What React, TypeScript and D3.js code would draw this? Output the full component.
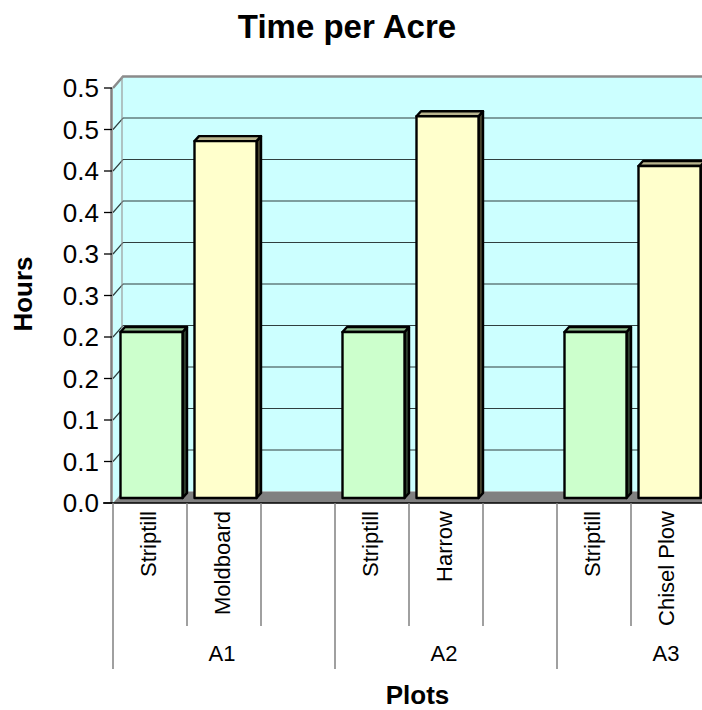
import React from "react";
import * as d3 from "d3";

const groups = ["A1", "A2", "A3"];
const treatments = [
  ["Striptill", "Moldboard", ""],
  ["Striptill", "Harrow", ""],
  ["Striptill", "Chisel Plow", ""],
];
const striptillHours = [0.2, 0.2, 0.2];
const tillageHours = [0.43, 0.46, 0.4];
const yTickValues = [0, 0.05, 0.1, 0.15, 0.2, 0.25, 0.3, 0.35, 0.4, 0.45, 0.5];
const yTickLabels = ["0.0", "0.1", "0.1", "0.2", "0.2", "0.3", "0.3", "0.4", "0.4", "0.5", "0.5"];

const W = 702;
const H = 710;
const FONT = "'Liberation Sans', Arial, sans-serif";

const left = 113;
const right = 779;
const y0 = 503;
const yTop = 88;
const wall = { dx: 10, dy: -11.5 };
const barOff = { dx: 4, dy: -5 };
const barDepth = { dx: 4.5, dy: -5 };

const GREEN = { front: "#CCFFCC", top: "#8FBF8F", side: "#2E402E" };
const YELLOW = { front: "#FFFFCC", top: "#B8B48E", side: "#46442E" };

export default function App() {
  const y = d3.scaleLinear().domain([0, 0.5]).range([y0, yTop]);
  const slotKeys = groups.flatMap((g, gi) => treatments[gi].map((_, ti) => `${g}|${ti}`));
  const xSlot = d3.scaleBand<string>().domain(slotKeys).range([left, right]).padding(0);
  const xGroup = d3.scaleBand<string>().domain(groups).range([left, right]).padding(0);
  const bw = xSlot.bandwidth() * 0.838;

  const bars: { key: string; v: number; c: typeof GREEN }[] = [];
  groups.forEach((g, gi) => {
    bars.push({ key: `${g}|0`, v: striptillHours[gi], c: GREEN });
    bars.push({ key: `${g}|1`, v: tillageHours[gi], c: YELLOW });
  });

  const backLeft = left + wall.dx;
  const backBottom = y0 + wall.dy;
  const backTop = yTop + wall.dy;

  return (
    <svg
      width={W}
      height={H}
      style={{ position: "absolute", left: 0, top: 0, background: "#fff" }}
      fontFamily={FONT}
    >
      {/* back wall */}
      <rect x={backLeft} y={backTop} width={right + wall.dx - backLeft} height={backBottom - backTop} fill="#CCFFFF" />
      {/* left wall */}
      <polygon
        points={`${left},${y0} ${left},${yTop} ${backLeft},${backTop} ${backLeft},${backBottom}`}
        fill="#CCFFFF"
      />
      {/* gridlines */}
      {yTickValues.slice(1, -1).map((v, i) => (
        <polyline
          key={i}
          points={`${left},${y(v)} ${backLeft},${y(v) + wall.dy} ${right + wall.dx},${y(v) + wall.dy}`}
          fill="none"
          stroke="#2f3f3f"
          strokeWidth={1.2}
        />
      ))}
      {/* wall borders */}
      <polyline
        points={`${left},${yTop} ${backLeft},${backTop} ${right + wall.dx},${backTop}`}
        fill="none"
        stroke="#8a8a8a"
        strokeWidth={2.5}
      />
      <line x1={backLeft - 1} x2={backLeft - 1} y1={backTop} y2={backBottom} stroke="#9a9a9a" strokeWidth={1.2} />
      {/* floor */}
      <polygon
        points={`${left},${y0} ${right},${y0} ${right + wall.dx},${backBottom} ${backLeft},${backBottom}`}
        fill="#808080"
      />
      {/* bars */}
      {bars.map((b) => {
        const x = (xSlot(b.key) as number) + barOff.dx + 3.5;
        const yb = y(0) + barOff.dy;
        const yt = y(b.v) + barOff.dy;
        const topPts = `${x},${yt} ${x + barDepth.dx},${yt + barDepth.dy} ${x + bw + barDepth.dx},${yt + barDepth.dy} ${x + bw},${yt}`;
        const sidePts = `${x + bw},${yt} ${x + bw + barDepth.dx},${yt + barDepth.dy} ${x + bw + barDepth.dx},${yb + barDepth.dy} ${x + bw},${yb}`;
        return (
          <g key={b.key} stroke="#000" strokeWidth={2.4} strokeLinejoin="round">
            <polygon points={sidePts} fill={b.c.side} />
            <polygon points={topPts} fill={b.c.top} />
            <rect x={x} y={yt} width={bw} height={yb - yt} fill={b.c.front} />
          </g>
        );
      })}
      {/* y axis */}
      <line x1={left - 1.5} x2={left - 1.5} y1={yTop} y2={y0} stroke="#808080" strokeWidth={2.5} />
      {yTickValues.map((v, i) => (
        <g key={i}>
          <line x1={104} x2={left - 1} y1={y(v)} y2={y(v)} stroke="#000" strokeWidth={1.3} />
          <text x={99} y={y(v)} dy="0.35em" textAnchor="end" fontSize={26} fill="#000">
            {yTickLabels[i]}
          </text>
        </g>
      ))}
      {/* x axis */}
      <line x1={103} x2={W} y1={y0} y2={y0} stroke="#000" strokeWidth={1.5} />
      {slotKeys.map((k, i) =>
        i % 3 === 0 ? null : (
          <line key={k} x1={xSlot(k)} x2={xSlot(k)} y1={y0} y2={626} stroke="#808080" strokeWidth={1.5} />
        )
      )}
      {[...groups.map((g) => xGroup(g) as number), right].map((gx, i) => (
        <line key={i} x1={gx} x2={gx} y1={y0} y2={669} stroke="#808080" strokeWidth={1.5} />
      ))}
      {slotKeys.map((k, i) => {
        const label = treatments[Math.floor(i / 3)][i % 3];
        if (!label) return null;
        const cx = (xSlot(k) as number) + xSlot.bandwidth() / 2;
        return (
          <text
            key={k}
            transform={`translate(${cx + 6},511) rotate(-90)`}
            textAnchor="end"
            fontSize={22}
            fill="#000"
          >
            {label}
          </text>
        );
      })}
      {groups.map((g) => (
        <text
          key={g}
          x={(xGroup(g) as number) + xGroup.bandwidth() / 2 - 2}
          y={661}
          textAnchor="middle"
          fontSize={22}
          fill="#000"
        >
          {g}
        </text>
      ))}
      {/* titles */}
      <text x={347} y={38} textAnchor="middle" fontSize={33} fontWeight="bold" fill="#000">
        Time per Acre
      </text>
      <text x={417.5} y={704} textAnchor="middle" fontSize={26} fontWeight="bold" fill="#000">
        Plots
      </text>
      <text transform="translate(31.5,294) rotate(-90)" textAnchor="middle" fontSize={26} fontWeight="bold" fill="#000">
        Hours
      </text>
    </svg>
  );
}
